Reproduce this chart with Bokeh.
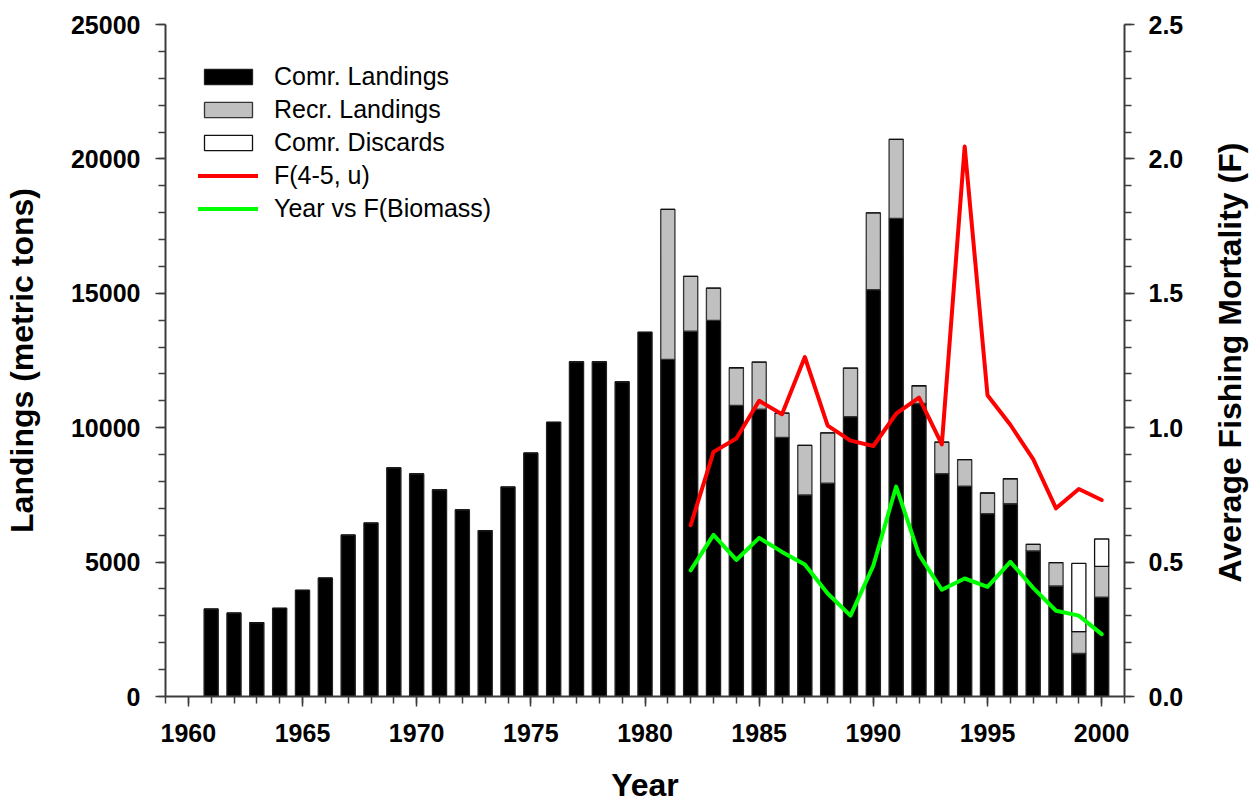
import math
from bokeh.plotting import figure
from bokeh.layouts import row
from bokeh.models import (Range1d, LinearAxis, SingleIntervalTicker, Legend, LegendItem,
                          NumeralTickFormatter, ColumnDataSource)
from bokeh.core.properties import value
from bokeh.embed import file_html
from bokeh.resources import INLINE

# ---------------- data ----------------
years = list(range(1961, 2001))
comr_landings = [3250, 3100, 2750, 3280, 3950, 4400, 6000, 6450, 8500, 8280,
                 7690, 6940, 6170, 7790, 9050, 10200, 12450, 12450, 11700, 13550,
                 12540, 13590, 13990, 10830, 10690, 9640, 7500, 7940, 10410, 15140,
                 17790, 10900, 8290, 7830, 6800, 7170, 5420, 4110, 1600, 3700]
recr_landings = [0] * 20 + [5580, 2040, 1200, 1400, 1750, 900, 1840, 1870, 1810, 2850,
                            2940, 660, 1170, 980, 770, 930, 240, 870, 810, 1140]
comr_discards = [0] * 38 + [2540, 1020]

f_years = list(range(1982, 2001))
f_45u = [0.637, 0.910, 0.960, 1.100, 1.050, 1.263, 1.008, 0.952, 0.932, 1.052,
         1.112, 0.938, 2.046, 1.121, 1.011, 0.883, 0.700, 0.772, 0.731]
f_biomass = [0.469, 0.601, 0.508, 0.590, 0.538, 0.491, 0.383, 0.301, 0.487, 0.781,
             0.528, 0.397, 0.439, 0.408, 0.501, 0.404, 0.319, 0.301, 0.232]

right_title = ["Average Fishing Mortality (F)"]

FONT = "Liberation Sans"
AXC = "#3c3c3c"

src = ColumnDataSource(dict(year=years, comr=comr_landings, recr=recr_landings, disc=comr_discards))

p = figure(width=1210, height=806, output_backend="svg", toolbar_location=None,
           x_range=Range1d(1959, 2001), y_range=Range1d(0, 25000),
           min_border_left=164, min_border_right=86, min_border_top=24, min_border_bottom=110)
p.outline_line_color = None
p.grid.visible = False
p.extra_y_ranges = {"F": Range1d(0, 2.5)}

bars = p.vbar_stack(["comr", "recr", "disc"], x="year", width=0.62, source=src,
                    fill_color=["black", "#c0c0c0", "white"],
                    line_color=["#202020", "#333333", "#111111"], line_width=1.3)

red = p.line(f_years, f_45u, y_range_name="F", line_color="#ff0000", line_width=4,
             line_join="round", line_cap="round")
green = p.line(f_years, f_biomass, y_range_name="F", line_color="#00ff00", line_width=4,
               line_join="round", line_cap="round")

def style_axis(ax):
    ax.axis_line_color = AXC
    ax.axis_line_width = 2
    ax.major_tick_line_color = AXC
    ax.minor_tick_line_color = AXC
    ax.major_tick_line_width = 1.5
    ax.minor_tick_line_width = 1.5
    ax.major_tick_out = 10
    ax.major_tick_in = 0
    ax.minor_tick_out = 7
    ax.minor_tick_in = 0
    ax.major_label_text_font = FONT
    ax.major_label_text_font_style = "bold"
    ax.major_label_text_font_size = "25px"
    ax.major_label_text_color = "black"
    ax.axis_label_text_font = FONT
    ax.axis_label_text_font_style = "bold"
    ax.axis_label_text_font_size = "32px"
    ax.axis_label_text_color = "black"

# x axis
xa = p.xaxis[0]
xa.ticker = SingleIntervalTicker(interval=5, num_minor_ticks=5)
style_axis(xa)
xa.axis_label = "Year"
xa.major_label_standoff = 17
xa.axis_label_standoff = 22

# left y axis
ya = p.yaxis[0]
ya.ticker = SingleIntervalTicker(interval=5000, num_minor_ticks=5)
style_axis(ya)
ya.axis_label = "Landings (metric tons)"
ya.major_label_standoff = 15
ya.axis_label_standoff = 28
ya.formatter = NumeralTickFormatter(format="0")

# right y axis
ra = LinearAxis(y_range_name="F", ticker=SingleIntervalTicker(interval=0.5, num_minor_ticks=5),
                formatter=NumeralTickFormatter(format="0.0"))
style_axis(ra)
ra.major_label_standoff = 14
p.add_layout(ra, "right")

legend = Legend(items=[
    LegendItem(label="Comr. Landings", renderers=[bars[0]]),
    LegendItem(label="Recr. Landings", renderers=[bars[1]]),
    LegendItem(label="Comr. Discards", renderers=[bars[2]]),
    LegendItem(label="F(4-5, u)", renderers=[red]),
    LegendItem(label="Year vs F(Biomass)", renderers=[green]),
], location=(33, 473))
legend.margin = 0
legend.padding = 0
legend.spacing = 4
legend.glyph_width = 60
legend.glyph_height = 19
legend.label_standoff = 16
legend.label_text_font = FONT
legend.label_text_font_size = "25px"
legend.label_text_color = "black"
legend.border_line_color = None
legend.background_fill_alpha = 0
p.add_layout(legend)

# narrow companion figure that carries the right-axis title (reads bottom-to-top)
side = figure(width=39, height=806, output_backend="svg", toolbar_location=None,
              x_range=Range1d(0, 39), y_range=Range1d(0, 672),
              x_axis_location=None, y_axis_location=None,
              min_border_left=0, min_border_right=0, min_border_top=24, min_border_bottom=110)
side.outline_line_color = None
side.grid.visible = False
side.text(x=[19], y=[334], text=right_title, angle=math.pi / 2,
          text_align="center", text_baseline="middle",
          text_font=value(FONT), text_font_style="bold", text_font_size="32px",
          text_color="black")

layout = row(p, side, spacing=0)
open("out.html", "w").write(file_html(layout, INLINE))
